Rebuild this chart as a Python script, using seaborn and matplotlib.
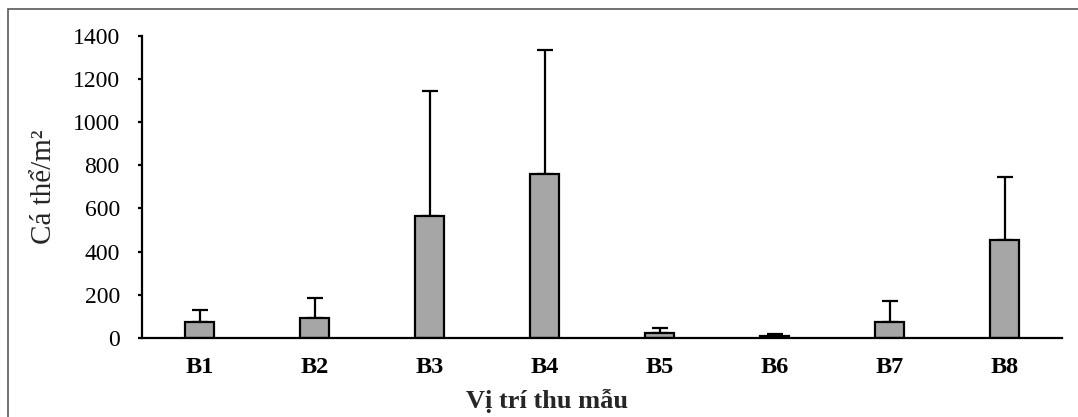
import matplotlib
matplotlib.use("Agg")
import matplotlib.pyplot as plt
import seaborn as sns
import pandas as pd
from matplotlib.patches import Rectangle

categories = ["B1", "B2", "B3", "B4", "B5", "B6", "B7", "B8"]
means = [73, 93, 565, 759, 25, 10, 74, 454]
errors = [57, 94, 581, 576, 21, 7, 99, 292]
yticks = [0, 200, 400, 600, 800, 1000, 1200, 1400]

sns.set_style("white")
plt.rcParams["font.family"] = ["Liberation Serif", "DejaVu Serif"]

W, H = 1078, 417
fig = plt.figure(figsize=(W / 100, H / 100), dpi=100)
ax = fig.add_axes([142 / W, 1 - 338 / H, (1062 - 142) / W, (338 - 35.7) / H])

df = pd.DataFrame({"cat": categories, "val": means})
sns.barplot(data=df, x="cat", y="val", color="#A6A6A6", edgecolor="black",
            linewidth=1.6, width=0.25, saturation=1, errorbar=None, ax=ax, zorder=2)
for p in ax.patches:
    p.set_facecolor("#A6A6A6")

xpos = list(range(len(categories)))
ax.errorbar(xpos, means, yerr=[[0] * len(errors), errors], fmt="none",
            ecolor="black", elinewidth=1.6, capsize=6, capthick=1.6, zorder=1)

ax.set_ylim(0, 1400)
ax.set_xlim(-0.5, len(categories) - 0.5)
ax.set_yticks(yticks)
ax.set_yticklabels([str(v) for v in yticks], fontsize=17)
ax.set_xticks(xpos)
ax.set_xticklabels(categories, fontsize=17.5, fontweight="bold")

for s in ["top", "right"]:
    ax.spines[s].set_visible(False)
for s in ["left", "bottom"]:
    ax.spines[s].set_color("black")
    ax.spines[s].set_linewidth(1.6)

ax.tick_params(axis="y", which="both", left=True, length=3, width=1.6, pad=13, colors="black")
ax.tick_params(axis="x", length=0, pad=14, colors="black")

ax.set_xlabel("")
ax.set_ylabel("Cá thể/m²", fontsize=21)
ax.yaxis.set_label_coords((57 - 142) / 920, 0.5)

fig.text(547 / W, 1 - 401 / H, "Vị trí thu mẫu", fontsize=19, fontweight="bold",
         ha="center", va="center")

# outer chart frame (top and left visible)
fig.patches.append(Rectangle((8 / W, -0.1), 1.2, 1 - 9 / H + 0.1,
                             transform=fig.transFigure, fill=False,
                             edgecolor="#595959", linewidth=1.2))

fig.savefig("out.png", dpi=100)
